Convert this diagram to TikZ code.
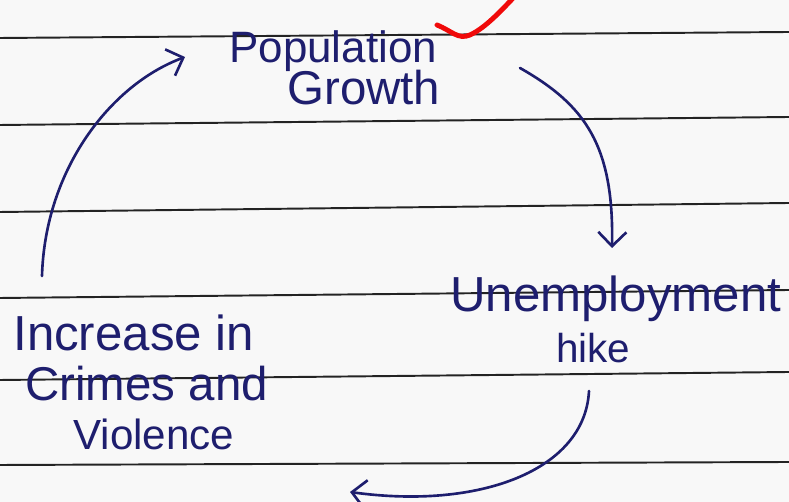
\documentclass[tikz,border=0pt]{standalone}
\usepackage{fontspec}
\setmainfont{Liberation Sans}
\usetikzlibrary{arrows.meta}
\definecolor{pen}{RGB}{30,30,110}
\definecolor{rule}{RGB}{35,35,35}
\definecolor{paper}{RGB}{248,248,248}
\definecolor{tick}{RGB}{240,10,10}
\newcommand{\hw}[1]{\fontsize{#1}{#1}\selectfont}

\begin{document}
\begin{tikzpicture}[x=0.02cm, y=-0.02cm,
    hand/.style={text=pen, inner sep=0pt, anchor=base west},
    loop/.style={pen, line width=1.5pt, line cap=round, -{Straight Barb[length=8pt,width=16pt]}},
    ruling/.style={rule, line width=1.1pt}]
    % Paper
    \fill[paper] (0,0) rectangle (789,502);
    \useasboundingbox (0,0) rectangle (789,502);

    % Ruled lines (slightly tilted)
    \foreach \yl/\yr in {38/32, 125/117, 212/203, 298/290, 380/372, 465/462}
        \draw[ruling] (0,\yl) -- (789,\yr);

    % Red tick
    \draw[tick, line width=2.8pt, line cap=round] (437,25) .. controls (452,31) and (458,40) .. (470,35)
        .. controls (485,28) and (500,12) .. (516,-5);

    % Stages of the cycle
    \node[hand] (pop) at (229,63) {\hw{25}Population};
    \node[hand] (growth) at (287,105) {\hw{27}Growth};
    \node[hand] (unemp) at (450,312) {\hw{28}Unemployment};
    \node[hand] (hike) at (556,363) {\hw{23}hike};
    \node[hand] (crimeA) at (13,351) {\hw{28}Increase in};
    \node[hand] (crimeB) at (25,401) {\hw{27}Crimes and};
    \node[hand] (crimeC) at (73,450) {\hw{24}Violence};

    % Arrow ends
    \coordinate (growthout) at (520,68);
    \coordinate (unempin) at (612,248);
    \coordinate (hikeout) at (589,391);
    \coordinate (crimein) at (350,492);
    \coordinate (crimeout) at (42,276);
    \coordinate (popin) at (185,57);

    % Cycle arrows
    \draw[loop] (growthout) .. controls (585,105) and (614,145) .. (unempin);
    \draw[loop] (hikeout) .. controls (585,470) and (480,510) .. (crimein);
    \draw[loop] (crimeout) .. controls (45,170) and (110,85) .. (popin);
\end{tikzpicture}
\end{document}
